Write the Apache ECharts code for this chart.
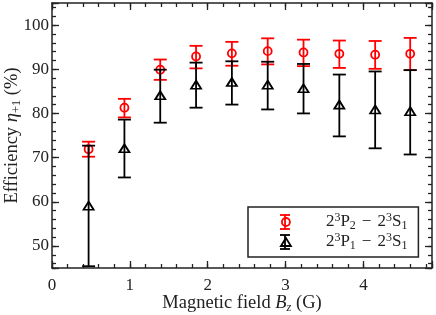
<!DOCTYPE html>
<html>
<head>
<meta charset="utf-8">
<script src="https://cdn.jsdelivr.net/npm/echarts@6/dist/echarts.min.js"></script>
<style>html,body{margin:0;padding:0;background:#fff;}#c{width:436px;height:315px;}</style>
</head>
<body>
<div id="c"></div>
<script>
// ---- data ----
const fieldBz = [0.47, 0.93, 1.39, 1.85, 2.31, 2.77, 3.23, 3.69, 4.15, 4.60];
const etaP2 = [71.9, 81.3, 89.9, 92.9, 93.6, 94.1, 93.8, 93.5, 93.3, 93.5];
const etaP2Low = [70.2, 79.1, 87.6, 90.2, 90.8, 91.1, 90.7, 90.3, 90.1, 89.8];
const etaP2High = [73.6, 83.3, 92.2, 95.3, 96.2, 97.0, 96.7, 96.5, 96.4, 97.1];
const etaP1 = [59.1, 72.1, 84.1, 86.5, 87.1, 86.5, 85.7, 82.0, 80.9, 80.5];
const etaP1Low = [45.4, 65.5, 77.9, 81.3, 82.0, 80.9, 80.0, 74.8, 72.1, 70.7];
const etaP1High = [72.7, 78.6, 89.9, 91.5, 91.8, 91.7, 91.2, 88.8, 89.5, 89.8];
const seriesNames = ['2³P₂ − 2³S₁', '2³P₁ − 2³S₁'];
const legendRich = ['{sp|}{n|2}{sup|3}{n|P}{sub|2}{m|−}{n|2}{sup|3}{n|S}{sub|1}',
                    '{sp|}{n|2}{sup|3}{n|P}{sub|1}{m|−}{n|2}{sup|3}{n|S}{sub|1}'];
const xRange = [0, 4.88];
const yRange = [45, 105];

const FONT = 'Liberation Serif';
const TXT = '#222';
const RED = '#ff0000';
const BLK = '#000000';
const NAME_FS = 18.5;

const chart = echarts.init(document.getElementById('c'), null, {renderer: 'canvas'});

function errData(xs, lo, hi) { return xs.map((x, i) => [x, lo[i], hi[i]]); }
function ptData(xs, ys) { return xs.map((x, i) => [x, ys[i]]); }

function errRender(color) {
  return function (params, api) {
    const x = api.value(0);
    const p1 = api.coord([x, api.value(1)]);
    const p2 = api.coord([x, api.value(2)]);
    const w = 6.5;
    const st = {stroke: color, lineWidth: 1.8, fill: null};
    return {type: 'group', children: [
      {type: 'line', shape: {x1: p1[0], y1: p1[1], x2: p2[0], y2: p2[1]}, style: st},
      {type: 'line', shape: {x1: p1[0] - w, y1: p1[1], x2: p1[0] + w, y2: p1[1]}, style: st},
      {type: 'line', shape: {x1: p2[0] - w, y1: p2[1], x2: p2[0] + w, y2: p2[1]}, style: st}
    ]};
  };
}

const lineStyle = {color: TXT, width: 1.5};
const tickStyle = {color: TXT, width: 1.3};

function xAx(pos, major) {
  return {
    type: 'value', position: pos, min: xRange[0], max: xRange[1],
    interval: major ? 1 : 0.2,
    axisLine: {show: major, onZero: false, lineStyle: lineStyle},
    axisTick: {show: true, inside: true, length: major ? 7 : 4, lineStyle: tickStyle},
    axisLabel: {show: major && pos === 'bottom', fontFamily: FONT, fontSize: 17, color: TXT, margin: 9,
      formatter: v => (Math.abs(v - Math.round(v)) < 1e-9 ? String(Math.round(v)) : '')},
    splitLine: {show: false},
    name: (major && pos === 'bottom') ? '{n|Magnetic field }{i|B}{isub|z}{n| (G)}' : '',
    nameLocation: 'middle', nameGap: 24, nameMoveOverlap: false,
    nameTextStyle: {rich: {
      n: {fontFamily: FONT, fontSize: NAME_FS, color: TXT, lineHeight: 22},
      i: {fontFamily: FONT, fontSize: NAME_FS, fontStyle: 'italic', color: TXT, lineHeight: 22},
      isub: {fontFamily: FONT, fontSize: 12.5, fontStyle: 'italic', color: TXT, lineHeight: 13, verticalAlign: 'bottom'}
    }}
  };
}
function yAx(pos, major) {
  return {
    type: 'value', position: pos, min: yRange[0], max: yRange[1],
    splitNumber: major ? 6 : 30,
    axisLine: {show: major, onZero: false, lineStyle: lineStyle},
    axisTick: {show: true, inside: true, length: major ? 7 : 4, lineStyle: tickStyle},
    axisLabel: {show: major && pos === 'left', fontFamily: FONT, fontSize: 17, color: TXT, margin: 3,
      formatter: v => (Math.abs(v % 10) < 1e-9 ? String(v) : '')},
    splitLine: {show: false},
    name: (major && pos === 'left') ? '{n|Efficiency }{i|η}{sub|+1}{n| (%)}' : '',
    nameLocation: 'middle', nameGap: 28.5, nameMoveOverlap: false,
    nameTextStyle: {rich: {
      n: {fontFamily: FONT, fontSize: NAME_FS, color: TXT, lineHeight: 22},
      i: {fontFamily: FONT, fontSize: NAME_FS, fontStyle: 'italic', color: TXT, lineHeight: 22},
      sub: {fontFamily: FONT, fontSize: 12.5, color: TXT, lineHeight: 13, verticalAlign: 'bottom'}
    }}
  };
}

const legX = 285, legY1 = 222, legY2 = 242, legH = 7, legW = 5;
function legBar(cx, cy, color) {
  const st = {stroke: color, lineWidth: 1.8};
  return [
    {type: 'line', z: 100, shape: {x1: cx, y1: cy - legH, x2: cx, y2: cy + legH}, style: st},
    {type: 'line', z: 100, shape: {x1: cx - legW, y1: cy - legH, x2: cx + legW, y2: cy - legH}, style: st},
    {type: 'line', z: 100, shape: {x1: cx - legW, y1: cy + legH, x2: cx + legW, y2: cy + legH}, style: st}
  ];
}

chart.setOption({
  animation: false,
  backgroundColor: '#fff',
  grid: {left: 52, right: 4, top: 3, bottom: 47, containLabel: false, outerBoundsMode: 'none'},
  xAxis: [xAx('bottom', true), xAx('bottom', false), xAx('top', true), xAx('top', false)],
  yAxis: [yAx('left', true), yAx('left', false), yAx('right', true), yAx('right', false)],
  legend: {
    left: 248, top: 207, orient: 'vertical',
    padding: [5, 11, 5, 32], itemGap: 0, itemWidth: 10, itemHeight: 8,
    borderColor: TXT, borderWidth: 1.5, backgroundColor: '#fff',
    data: [
      {name: seriesNames[0], icon: 'circle', itemStyle: {color: 'transparent', borderColor: RED, borderWidth: 1.8}},
      {name: seriesNames[1], icon: 'triangle', itemStyle: {color: 'transparent', borderColor: BLK, borderWidth: 1.8}}
    ],
    formatter: name => legendRich[seriesNames.indexOf(name)],
    textStyle: {rich: {
      sp: {width: 30},
      n: {fontFamily: FONT, fontSize: 17, color: TXT, lineHeight: 20},
      m: {fontFamily: FONT, fontSize: 17, color: TXT, lineHeight: 20, padding: [0, 6, 0, 6]},
      sup: {fontFamily: FONT, fontSize: 12, color: TXT, lineHeight: 12, verticalAlign: 'top'},
      sub: {fontFamily: FONT, fontSize: 12, color: TXT, lineHeight: 12, verticalAlign: 'bottom'}
    }}
  },
  graphic: [].concat(legBar(legX, legY1, RED), legBar(legX, legY2, BLK)),
  series: [
    {type: 'custom', name: seriesNames[0] + ' err', xAxisIndex: 0, yAxisIndex: 0,
     renderItem: errRender(RED), encode: {x: 0, y: [1, 2]}, data: errData(fieldBz, etaP2Low, etaP2High), z: 2, clip: false},
    {type: 'scatter', name: seriesNames[0], xAxisIndex: 0, yAxisIndex: 0, symbol: 'circle', symbolSize: 8,
     itemStyle: {color: 'transparent', borderColor: RED, borderWidth: 1.8, opacity: 1}, data: ptData(fieldBz, etaP2), z: 3},
    {type: 'custom', name: seriesNames[1] + ' err', xAxisIndex: 0, yAxisIndex: 0,
     renderItem: errRender(BLK), encode: {x: 0, y: [1, 2]}, data: errData(fieldBz, etaP1Low, etaP1High), z: 4, clip: false},
    {type: 'scatter', name: seriesNames[1], xAxisIndex: 0, yAxisIndex: 0, symbol: 'triangle', symbolSize: [10, 8],
     itemStyle: {color: 'transparent', borderColor: BLK, borderWidth: 1.8, opacity: 1}, data: ptData(fieldBz, etaP1), z: 5}
  ]
});
</script>
</body>
</html>
